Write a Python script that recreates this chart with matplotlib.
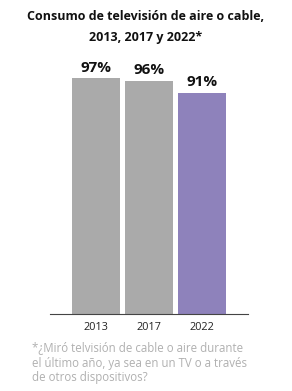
import matplotlib.pyplot as plt

years = ["2013", "2017", "2022"]
values = [97, 96, 91]
colors = ["#aaaaaa", "#aaaaaa", "#8e82bb"]

title_lines = ["Consumo de televisión de aire o cable,", "2013, 2017 y 2022*"]
note_lines = ["*¿Miró telvisión de cable o aire durante",
              "el último año, ya sea en un TV o a través",
              "de otros dispositivos?"]

plt.rcParams['font.family'] = ['Open Sans', 'DejaVu Sans']

fig = plt.figure(figsize=(2.92, 3.91), dpi=100)
ax = fig.add_axes([50 / 292, 1 - 314 / 391, 198 / 292, (314 - 71) / 391])

x = range(len(years))
ax.bar(x, values, width=0.9, color=colors)
for xi, v in zip(x, values):
    ax.text(xi, v + 1.5, f"{v}%", ha="center", va="bottom",
            fontsize=11, fontweight="bold", color="#111111")

ax.set_xlim(-0.868, 2.868)
ax.set_ylim(0, 100)
ax.set_xticks(list(x))
ax.set_xticklabels(years, fontsize=7.8, color="#222222")
ax.tick_params(axis="x", length=0, pad=6)
ax.set_yticks([])
for side in ["top", "right", "left"]:
    ax.spines[side].set_visible(False)
ax.spines["bottom"].set_color("#444444")
ax.spines["bottom"].set_linewidth(0.8)

for y_px, line in zip([17, 38], title_lines):
    fig.text(0.5, 1 - y_px / 391, line, ha="center", va="center",
             fontsize=9, fontweight="bold", color="#111111")

for y_px, line in zip([348, 363, 378], note_lines):
    fig.text(32 / 292, 1 - y_px / 391, line, ha="left", va="center",
             fontsize=8.3, color="#b0b0b0")

fig.savefig("out.png", dpi=100)
